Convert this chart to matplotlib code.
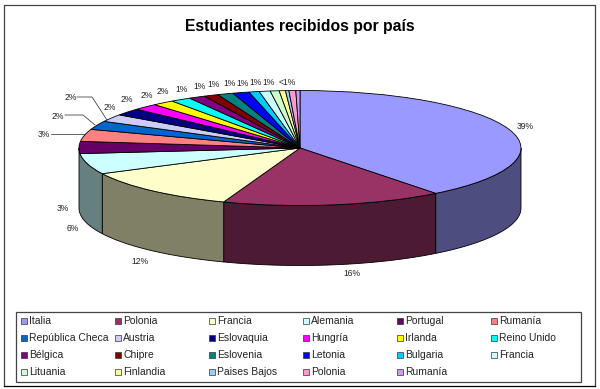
import numpy as np
import matplotlib
matplotlib.use("Agg")
import matplotlib.pyplot as plt
from matplotlib.patches import Rectangle

plt.rcParams['font.family'] = ['Liberation Sans', 'DejaVu Sans']

paises = ['Italia', 'Polonia', 'Francia', 'Alemania', 'Portugal', 'Rumanía',
          'República Checa', 'Austria', 'Eslovaquia', 'Hungría', 'Irlanda', 'Reino Unido',
          'Bélgica', 'Chipre', 'Eslovenia', 'Letonia', 'Bulgaria', 'Francia',
          'Lituania', 'Finlandia', 'Paises Bajos', 'Polonia', 'Rumanía']
valores = [39.4, 16.1, 12, 5.8, 3.4, 3.4,
           2.4, 2.1, 2, 1.8, 1.6, 1.5,
           1.2, 1.05, 1.15, 1.2, 0.75, 0.8,
           0.65, 0.45, 0.25, 0.5, 0.3]
colores = ['#9999ff', '#993366', '#ffffcc', '#ccffff', '#660066', '#ff8080',
           '#0066cc', '#ccccff', '#000080', '#ff00ff', '#ffff00', '#00ffff',
           '#800080', '#800000', '#008080', '#0000ff', '#00ccff', '#ccffff',
           '#ccffcc', '#ffff99', '#99ccff', '#ff99cc', '#cc99ff']
# label text, pixel position in the picture
etiquetas = [('39%', 525, 126), ('16%', 352, 273), ('12%', 140, 261), ('6%', 73, 228), ('3%', 63, 208),
             ('3%', 44, 134), ('2%', 58, 116), ('2%', 71, 97), ('2%', 110, 107), ('2%', 127, 99),
             ('2%', 147, 95), ('2%', 163, 91), ('1%', 182, 89), ('1%', 200, 86), ('1%', 214, 84),
             ('1%', 230, 83), ('1%', 243, 83), ('1%', 256, 82), ('1%', 269, 82), ('<1%', 287, 82)]
guias = [[(51, 134), (85, 134)],
         [(65, 115), (83, 115), (95, 125)],
         [(77, 97), (92, 97), (107, 120)]]

W, H = 600, 389
cx, cy, rx, ry, fondo = 300, 148, 221, 57.5, 60

fig = plt.figure(figsize=(6, 3.89), dpi=100)

# overlay in picture pixels
ov = fig.add_axes([0, 0, 1, 1], zorder=3)
ov.set_xlim(0, W)
ov.set_ylim(H, 0)
ov.axis('off')

# pie squashed to an ellipse
ax = fig.add_axes([(cx - rx) / W, 1 - (cy + ry) / H, 2 * rx / W, 2 * ry / H], zorder=2)
wedges, _ = ax.pie(valores, colors=colores, startangle=90, counterclock=False,
                   wedgeprops=dict(edgecolor='black', linewidth=0.6))
ax.set_aspect('auto')
ax.set_xlim(-1, 1)
ax.set_ylim(-1, 1)

# side wall, only the four big slices reach the front of the disc
d = fondo / ry
acum = 90 - np.cumsum([0] + valores) / sum(valores) * 360
for i in range(4):
    a = min(acum[i], 0)
    b = -180 if i == 3 else acum[i + 1]
    t = np.radians(np.linspace(a, b, 60))
    px = np.r_[np.cos(t), np.cos(t[::-1])]
    py = np.r_[np.sin(t), np.sin(t[::-1]) - d]
    rgb = np.array(matplotlib.colors.to_rgb(colores[i])) * 0.5
    ax.fill(px, py, facecolor=rgb, edgecolor='black', linewidth=0.6, clip_on=False, zorder=0)

ov.text(300, 26, 'Estudiantes recibidos por país', ha='center', va='center',
        fontsize=11.3, fontweight='bold')

for txt, x, y in etiquetas:
    ov.text(x, y, txt, ha='center', va='center', fontsize=6.2, color='#222222')
for g in guias:
    ov.plot(*zip(*g), color='#222222', lw=0.5)

# legend box, filled row by row
ov.add_patch(Rectangle((16, 312), 565, 70, fill=False, edgecolor='#444444', lw=0.9))
for i, (p, c) in enumerate(zip(paises, colores)):
    col, fila = i % 6, i // 6
    x = 21 + 94 * col
    y = 320.5 + 17.2 * fila
    ov.add_patch(Rectangle((x, y - 3), 6, 6, facecolor=c, edgecolor='#333333', lw=0.5))
    ov.text(x + 8, y, p, ha='left', va='center', fontsize=7.5, color='#222222')

# outer frame
ov.plot([4, 4, 595, 595], [386, 4.5, 4.5, 386], color='#444444', lw=0.9)
ov.plot([4, 595], [386, 386], color='black', lw=0.9)

fig.savefig('out.png', dpi=100)
